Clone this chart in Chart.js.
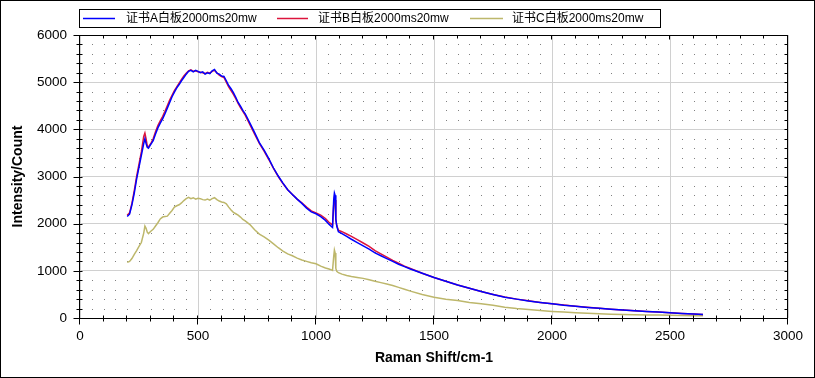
<!DOCTYPE html>
<html><head><meta charset="utf-8">
<style>html,body{margin:0;padding:0;background:#fff}#wrap{width:815px;height:378px}</style>
<script src="https://cdn.jsdelivr.net/npm/chart.js@4.4.1/dist/chart.umd.min.js"></script>
</head><body><div id="wrap"><canvas id="c" width="815" height="378"></canvas></div>
<script>
const ramanShift = [200,210,220,230,240,250,260,270,275,280,285,290,300,310,320,330,340,350,360,370,380,390,400,410,420,430,440,450,460,470,480,490,500,510,520,530,540,550,560,570,580,590,600,610,620,630,640,650,660,670,680,690,700,720,740,760,780,800,820,840,860,880,900,920,940,960,980,1000,1020,1040,1055,1065,1070,1075,1078,1081,1084,1088,1095,1110,1130,1150,1175,1200,1225,1250,1275,1300,1325,1350,1375,1400,1450,1500,1550,1600,1650,1700,1750,1800,1850,1900,1950,2000,2050,2100,2150,2200,2250,2300,2350,2400,2450,2500,2550,2600,2640];
const countA = [2150,2200,2400,2650,2950,3200,3450,3700,3800,3700,3620,3600,3680,3760,3900,4030,4130,4220,4330,4450,4570,4690,4790,4880,4950,5030,5100,5170,5230,5250,5220,5250,5230,5200,5220,5170,5200,5180,5240,5270,5190,5170,5130,5120,5030,4930,4860,4780,4680,4570,4490,4400,4330,4130,3930,3720,3560,3380,3180,3010,2860,2720,2620,2520,2430,2330,2250,2210,2150,2070,1990,1940,1920,2500,2650,2600,2100,1950,1830,1790,1730,1670,1600,1530,1460,1380,1320,1260,1200,1140,1090,1040,950,860,780,700,630,560,500,440,400,360,330,300,270,250,225,205,185,170,155,140,125,110,95,85,75];
const countB = [2180,2230,2430,2700,3000,3260,3520,3850,3920,3800,3650,3620,3700,3800,3950,4080,4180,4270,4380,4500,4620,4720,4820,4900,4980,5060,5130,5190,5240,5260,5230,5240,5220,5210,5200,5180,5210,5190,5230,5250,5200,5150,5120,5100,5000,4900,4820,4740,4650,4550,4460,4380,4300,4100,3900,3700,3540,3360,3170,3000,2850,2720,2620,2520,2440,2350,2270,2230,2180,2110,2030,1990,1970,2400,2550,2500,2080,1960,1860,1830,1780,1730,1660,1590,1520,1430,1360,1290,1220,1160,1100,1050,950,860,780,700,630,560,500,445,400,365,330,300,275,250,228,208,188,170,155,140,125,112,98,85,75];
const countC = [1180,1200,1260,1350,1430,1520,1600,1800,1950,1900,1820,1790,1840,1880,1950,2020,2100,2140,2150,2160,2220,2280,2350,2380,2400,2440,2490,2530,2560,2530,2550,2520,2540,2530,2510,2500,2520,2500,2530,2550,2510,2480,2460,2450,2420,2350,2290,2240,2210,2180,2140,2090,2060,1980,1870,1780,1720,1650,1570,1490,1420,1360,1320,1270,1230,1200,1170,1150,1100,1060,1040,1020,1010,1300,1440,1380,1050,990,960,930,900,880,860,840,810,780,750,720,690,650,610,570,500,440,400,370,330,300,270,230,200,180,160,140,125,110,100,90,82,76,70,66,62,60,55,50,48];
const seriesNames = ['证书A白板2000ms20mw','证书B白板2000ms20mw','证书C白板2000ms20mw'];
const seriesColors = ['#0000FF','#DC143C','#BDB76B'];
const xTickStep = 500, yTickStep = 1000;

const toPts = arr => ramanShift.map((x,i)=>({x:x,y:arr[i]}));
const FONT = '"Liberation Sans", Arial, "Noto Sans CJK SC", sans-serif';

const decor = {
  id:'decor',
  beforeDatasetsDraw(chart){
    const {ctx, chartArea:a, scales:{x,y}} = chart;
    ctx.save();
    ctx.fillStyle = '#808080';
    for (let xv=50; xv<3000; xv+=50){
      if (xv%500===0) continue;
      const px = Math.round(x.getPixelForValue(xv));
      for (let yv=200; yv<6000; yv+=200){
        if (yv%1000===0) continue;
        const py = Math.round(y.getPixelForValue(yv));
        ctx.fillRect(px, py, 1, 1);
      }
    }
    ctx.restore();
  },
  afterDraw(chart){
    const {ctx, chartArea:a, scales:{x,y}} = chart;
    const L = Math.round(a.left)-0.5, R = Math.round(a.right)-0.5, T = Math.round(a.top)+0.5, B = Math.round(a.bottom)+0.5;
    ctx.save();
    ctx.strokeStyle = '#000'; ctx.lineWidth = 1;
    ctx.strokeRect(L, T, R-L, B-T);
    ctx.beginPath();
    for (let v=0; v<=3000; v+=100){
      const px = Math.round(x.getPixelForValue(v))-0.5;
      const major = v%500===0;
      ctx.moveTo(px, B-3); ctx.lineTo(px, B+(major?6:3));
      ctx.moveTo(px, T); ctx.lineTo(px, T+(major?4:3));
    }
    for (let v=0; v<=6000; v+=200){
      const py = Math.round(y.getPixelForValue(v))+0.5;
      const major = v%1000===0;
      ctx.moveTo(L-(major?6:3), py); ctx.lineTo(L+3, py);
      ctx.moveTo(R, py); ctx.lineTo(R-3, py);
    }
    ctx.stroke();
    // outer frame
    ctx.strokeRect(0.5,0.5,chart.width-1,chart.height-1);
    // legend
    ctx.strokeRect(79.5, 9.5, 581, 18);
    const items = [[83,115,126],[277,308,318],[470,503,512]];
    ctx.font = '12px ' + FONT;
    ctx.textBaseline = 'middle';
    chart.data.datasets.forEach((ds,i)=>{
      const [l1,l2,tx] = items[i];
      ctx.strokeStyle = ds.borderColor; ctx.lineWidth = 1.5;
      ctx.beginPath(); ctx.moveTo(l1,18.5); ctx.lineTo(l2,18.5); ctx.stroke();
      ctx.fillStyle = '#000';
      ctx.fillText(ds.label, tx, 19);
    });
    ctx.restore();
  }
};

new Chart(document.getElementById('c'), {
  type:'line',
  data:{datasets:[
    {label:seriesNames[0], data:toPts(countA), borderColor:seriesColors[0], borderWidth:1.5, pointRadius:0, fill:false, tension:0},
    {label:seriesNames[1], data:toPts(countB), borderColor:seriesColors[1], borderWidth:1.5, pointRadius:0, fill:false, tension:0},
    {label:seriesNames[2], data:toPts(countC), borderColor:seriesColors[2], borderWidth:1.5, pointRadius:0, fill:false, tension:0}
  ]},
  options:{
    responsive:false, animation:false, devicePixelRatio:1,
    layout:{padding:{left:0, top:35, right:27, bottom:0}},
    plugins:{legend:{display:false}, tooltip:{enabled:false}},
    scales:{
      x:{type:'linear', min:0, max:3000,
        afterFit(s){ s.height = 60; },
        ticks:{stepSize:xTickStep, padding:10, color:'#000', font:{family:FONT, size:13.5}, callback:v=>String(v), maxRotation:0},
        grid:{color:'#d0d0d0', drawTicks:false},
        border:{display:false},
        title:{display:true, text:'Raman Shift/cm-1', color:'#000', font:{family:FONT, size:14, weight:'bold'}, padding:{top:0,bottom:11.6}}
      },
      y:{type:'linear', min:0, max:6000,
        afterFit(s){ s.width = 80; },
        ticks:{stepSize:yTickStep, padding:13, color:'#000', font:{family:FONT, size:13.5}, callback:v=>String(v)},
        grid:{color:'#d0d0d0', drawTicks:false},
        border:{display:false},
        title:{display:true, text:'Intensity/Count', color:'#000', font:{family:FONT, size:14, weight:'bold'}, padding:{top:9.6,bottom:0}}
      }
    }
  },
  plugins:[decor]
});
</script></body></html>
